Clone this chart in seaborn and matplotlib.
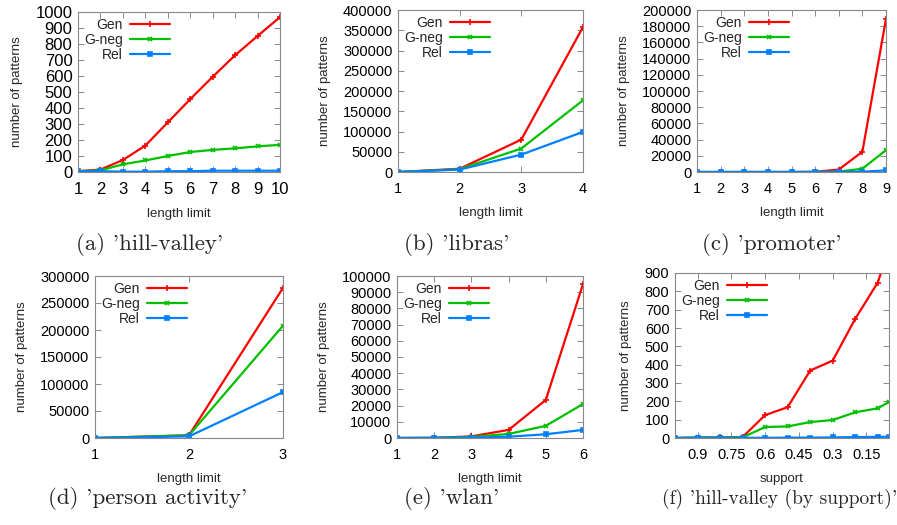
import numpy as np
import pandas as pd
import matplotlib
matplotlib.use("Agg")
import matplotlib.pyplot as plt
import seaborn as sns

series_names = ["Gen", "G-neg", "Rel"]

# (a) hill-valley
a_x = [1, 2, 3, 4, 5, 6, 7, 8, 9, 10]
a_gen = [5, 15, 75, 165, 310, 455, 595, 730, 850, 968]
a_gneg = [5, 10, 48, 72, 100, 125, 138, 148, 160, 170]
a_rel = [5, 5, 2, 2, 5, 5, 8, 8, 8, 8]

# (b) libras
b_x = [1, 2, 3, 4]
b_gen = [0, 8000, 80000, 358000]
b_gneg = [0, 7000, 58000, 177000]
b_rel = [0, 6000, 43000, 99000]

# (c) promoter
c_x = [1, 2, 3, 4, 5, 6, 7, 8, 9]
c_gen = [0, 0, 0, 0, 0, 200, 3000, 25000, 189000]
c_gneg = [0, 0, 0, 0, 0, 100, 500, 4000, 27000]
c_rel = [0, 0, 0, 0, 0, 0, 100, 300, 2000]

# (d) person activity
d_x = [1, 2, 3]
d_gen = [0, 5000, 278000]
d_gneg = [0, 5000, 208000]
d_rel = [0, 3000, 85000]

# (e) wlan
e_x = [1, 2, 3, 4, 5, 6]
e_gen = [0, 100, 1000, 5000, 23500, 95000]
e_gneg = [0, 100, 700, 2500, 7500, 21000]
e_rel = [0, 50, 300, 800, 2300, 5000]

# (f) hill-valley by support
f_x = [1.0, 0.9, 0.8, 0.7, 0.6, 0.5, 0.4, 0.3, 0.2, 0.1, 0.05]
f_gen = [0, 2, 3, 5, 125, 168, 368, 422, 650, 848, 1030]
f_gneg = [0, 3, 3, 3, 60, 63, 87, 98, 140, 162, 197]
f_rel = [0, 1, 1, 1, 1, 2, 2, 3, 5, 6, 7]
f_xticks = [0.9, 0.75, 0.6, 0.45, 0.3, 0.15]
f_xticklabels = ["0.9", "0.75", "0.6", "0.45", "0.3", "0.15"]

captions = ["(a) 'hill-valley'", "(b) 'libras'", "(c) 'promoter'",
            "(d) 'person activity'", "(e) 'wlan'", "(f) 'hill-valley (by support)'"]

sns.set_theme(style="ticks")
plt.rcParams['font.family'] = ['Liberation Sans', 'DejaVu Sans']

W, H = 897, 525
fig = plt.figure(figsize=(W / 100, H / 100), dpi=100)

def px_axes(l, t, r, b):
    return fig.add_axes([l / W, 1 - b / H, (r - l) / W, (b - t) / H])

colors = {"Gen": "#ff0000", "G-neg": "#00c000", "Rel": "#0080ff"}
markers = {"Gen": "+", "G-neg": "x", "Rel": "s"}
msize = {"Gen": 4, "G-neg": 3.5, "Rel": 3}

panels = [
    dict(box=(78, 12, 280, 172), x=a_x, ys=(a_gen, a_gneg, a_rel), xlim=(1, 10), xt=a_x, xtl=None,
         ylim=(0, 1000), ystep=100, xlabel="length limit", cap=(150, 244), cfs=16.5, tfs=12),
    dict(box=(398, 10, 583, 172), x=b_x, ys=(b_gen, b_gneg, b_rel), xlim=(1, 4), xt=b_x, xtl=None,
         ylim=(0, 400000), ystep=50000, xlabel="length limit", cap=(457, 244), cfs=16.5, tfs=10.5),
    dict(box=(697, 10, 886, 172), x=c_x, ys=(c_gen, c_gneg, c_rel), xlim=(1, 9), xt=c_x, xtl=None,
         ylim=(0, 200000), ystep=20000, xlabel="length limit", cap=(772, 244), cfs=16.5, tfs=10.5),
    dict(box=(95, 276, 283, 438), x=d_x, ys=(d_gen, d_gneg, d_rel), xlim=(1, 3), xt=d_x, xtl=None,
         ylim=(0, 300000), ystep=50000, xlabel="length limit", cap=(148, 499), cfs=16.5, tfs=10.5),
    dict(box=(397, 276, 583, 438), x=e_x, ys=(e_gen, e_gneg, e_rel), xlim=(1, 6), xt=e_x, xtl=None,
         ylim=(0, 100000), ystep=10000, xlabel="length limit", cap=(452, 499), cfs=16.5, tfs=10.5),
    dict(box=(675, 273, 889, 438), x=f_x, ys=(f_gen, f_gneg, f_rel), xlim=(1.0, 0.05), xt=f_xticks,
         xtl=f_xticklabels, ylim=(0, 900), ystep=100, xlabel="support", cap=(780, 499), cfs=14,
         tfs=10.5),
]

for i, p in enumerate(panels):
    ax = px_axes(*p["box"])
    rows = []
    for name, ys in zip(series_names, p["ys"]):
        for xv, yv in zip(p["x"], ys):
            rows.append({"x": xv, "y": yv, "series": name})
    df = pd.DataFrame(rows)
    for name in series_names:
        sub = df[df["series"] == name]
        sns.lineplot(data=sub, x="x", y="y", ax=ax, color=colors[name], marker=markers[name],
                     markersize=msize[name], markeredgewidth=1.2, linewidth=1.6, label=name,
                     markeredgecolor=colors[name], sort=False, estimator=None)
    ax.set_xlim(*p["xlim"])
    ax.set_ylim(*p["ylim"])
    ax.set_xticks(p["xt"])
    if p["xtl"] is not None:
        ax.set_xticklabels(p["xtl"])
    else:
        ax.set_xticklabels([str(v) for v in p["xt"]])
    yt = np.arange(p["ylim"][0], p["ylim"][1] + p["ystep"] / 2, p["ystep"])
    ax.set_yticks(yt)
    ax.set_yticklabels([str(int(v)) for v in yt])
    ax.tick_params(direction="in", length=4, width=0.6, top=True, right=True,
                   labelsize=p["tfs"], colors="#777777", labelcolor="black")
    ax.tick_params(axis="x", pad=7)
    ax.tick_params(axis="y", pad=4)
    for s in ax.spines.values():
        s.set_color("#888888")
        s.set_linewidth(0.8)
    ax.set_xlabel(p["xlabel"], fontsize=9.5, labelpad=8)
    ax.set_ylabel("number of patterns", fontsize=9.5, labelpad=9)
    leg = ax.legend(loc="upper left", bbox_to_anchor=(0.0, 1.0), frameon=False, markerfirst=False,
                    fontsize=10, handlelength=2.9, handletextpad=0.5, labelspacing=0.05,
                    borderaxespad=0.2, borderpad=0.25)
    for t in leg.get_texts():
        t.set_ha("right")
    cx, cy = p["cap"]
    fig.text(cx / W, 1 - cy / H, captions[i], ha="center", va="center", fontsize=p["cfs"],
             family=["cmr10", "DejaVu Serif"])

fig.savefig("out.png", dpi=100)
